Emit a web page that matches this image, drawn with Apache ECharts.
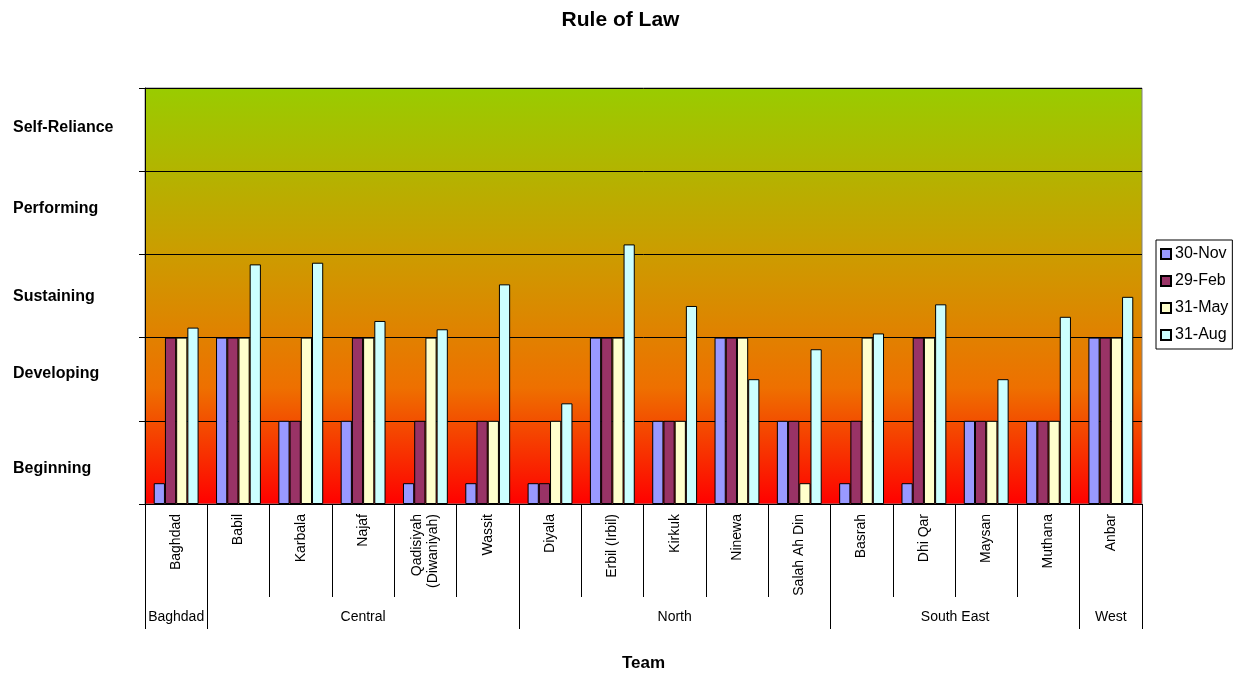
<!DOCTYPE html>
<html>
<head>
<meta charset="utf-8">
<script src="https://cdn.jsdelivr.net/npm/echarts@6/dist/echarts.min.js"></script>
<style>html,body{margin:0;padding:0;background:#fff;}#c{width:1241px;height:677px;}</style>
</head>
<body>
<div id="c"></div>
<script>
var categories = ['Baghdad','Babil','Karbala','Najaf','Qadisiyah\n(Diwaniyah)','Wassit','Diyala','Erbil (Irbil)','Kirkuk','Ninewa','Salah Ah Din','Basrah','Dhi Qar','Maysan','Muthana','Anbar'];
var seriesNames = ['30-Nov','29-Feb','31-May','31-Aug'];
var nov = [0.25,2,1,1,0.25,0.25,0.25,2,1,2,1,0.25,0.25,1,1,2];
var feb = [2,2,1,2,1,1,0.25,2,1,2,1,1,2,1,1,2];
var may = [2,2,2,2,2,1,1,2,1,2,0.25,2,2,1,1,2];
var aug = [2.12,2.88,2.9,2.2,2.1,2.64,1.21,3.12,2.38,1.5,1.86,2.05,2.4,1.5,2.25,2.49];
var levelLabels = ['Beginning','Developing','Sustaining','Performing','Self-Reliance'];
var levelLabelValues = [0.42,1.57,2.49,3.55,4.53];
var groupNames = ['Baghdad','Central','North','South East','West'];
var groupSizes = [1,5,5,4,1];
var colors = ['#9999FF','#993366','#FFFFCC','#CCFFFF'];
var FONT = 'Liberation Sans, Arial, sans-serif';

var chart = echarts.init(document.getElementById('c'));
var values = [nov, feb, may, aug];
var series = seriesNames.map(function(n, i){
  return {
    name: n, type: 'bar', data: values[i],
    barGap: '0%', barCategoryGap: '28%',
    itemStyle: {color: colors[i], borderColor: '#000', borderWidth: 1},
    animation: false
  };
});
chart.setOption({
  animation: false,
  textStyle: {fontFamily: FONT, color: '#000'},
  title: {text: 'Rule of Law', left: 'center', top: 5,
    textStyle: {fontSize: 21, fontWeight: 'bold', color: '#000', fontFamily: FONT}},
  legend: {
    orient: 'vertical', left: 1156, top: 240,
    borderColor: '#000', borderWidth: 1, padding: [6, 4, 6, 4],
    itemWidth: 10, itemHeight: 10, itemGap: 11, icon: 'rect',
    textStyle: {fontSize: 16, color: '#000', fontFamily: FONT, padding: [0,0,0,-1]},
    data: seriesNames
  },
  grid: {
    left: 145, right: 99, top: 88, bottom: 173, show: true,
    borderColor: '#808080', borderWidth: 1,
    backgroundColor: new echarts.graphic.LinearGradient(0, 0, 0, 1, [
      {offset: 0, color: '#99CC00'},
      {offset: 0.4, color: '#CC9C00'},
      {offset: 0.72, color: '#EE7000'},
      {offset: 1, color: '#FF0000'}
    ])
  },
  xAxis: {
    type: 'category', data: categories,
    axisLine: {lineStyle: {color: '#000', width: 1}},
    axisTick: {show: true, interval: 0, length: 93, lineStyle: {color: '#000'}},
    axisLabel: {interval: 0, rotate: 90, fontSize: 14, color: '#000', margin: 10, lineHeight: 16, fontFamily: FONT},
    name: 'Team', nameLocation: 'middle', nameGap: 151,
    nameTextStyle: {fontSize: 17, fontWeight: 'bold', color: '#000', fontFamily: FONT}
  },
  yAxis: {
    type: 'value', min: 0, max: 5, interval: 1,
    axisLine: {show: true, lineStyle: {color: '#000'}},
    axisTick: {show: true, length: 6, lineStyle: {color: '#000'}},
    axisLabel: {show: false},
    splitLine: {show: true, lineStyle: {color: '#000', width: 1}}
  },
  series: series
});

function subPix(p){
  var d = Math.round(p * 2);
  return (d + 1) % 2 === 0 ? d / 2 : (d + 1) / 2;
}
function drawExtras(){
  var c0 = chart.convertToPixel({xAxisIndex: 0}, 0);
  var c1 = chart.convertToPixel({xAxisIndex: 0}, 1);
  var bw = c1 - c0;
  var left = c0 - bw / 2;
  var elems = [];
  var idx = 0;
  var boundaries = [0];
  groupSizes.forEach(function(s){ idx += s; boundaries.push(idx); });
  boundaries.forEach(function(b){
    var x = subPix(left + b * bw);
    elems.push({type: 'line', shape: {x1: x, y1: 597, x2: x, y2: 629}, style: {stroke: '#000', lineWidth: 1}, silent: true});
  });
  for (var g = 0; g < groupNames.length; g++) {
    var xc = left + (boundaries[g] + boundaries[g+1]) / 2 * bw;
    elems.push({type: 'text', x: xc, y: 617, style: {text: groupNames[g], fill: '#000', font: '14px ' + FONT, textAlign: 'center', textVerticalAlign: 'middle'}, silent: true});
  }
  levelLabels.forEach(function(t, i){
    var y = chart.convertToPixel({yAxisIndex: 0}, levelLabelValues[i]);
    elems.push({type: 'text', x: 13, y: y, style: {text: t, fill: '#000', font: 'bold 16px ' + FONT, textAlign: 'left', textVerticalAlign: 'middle'}, silent: true});
  });
  chart.setOption({graphic: elems});
}
drawExtras();
</script>
</body>
</html>
